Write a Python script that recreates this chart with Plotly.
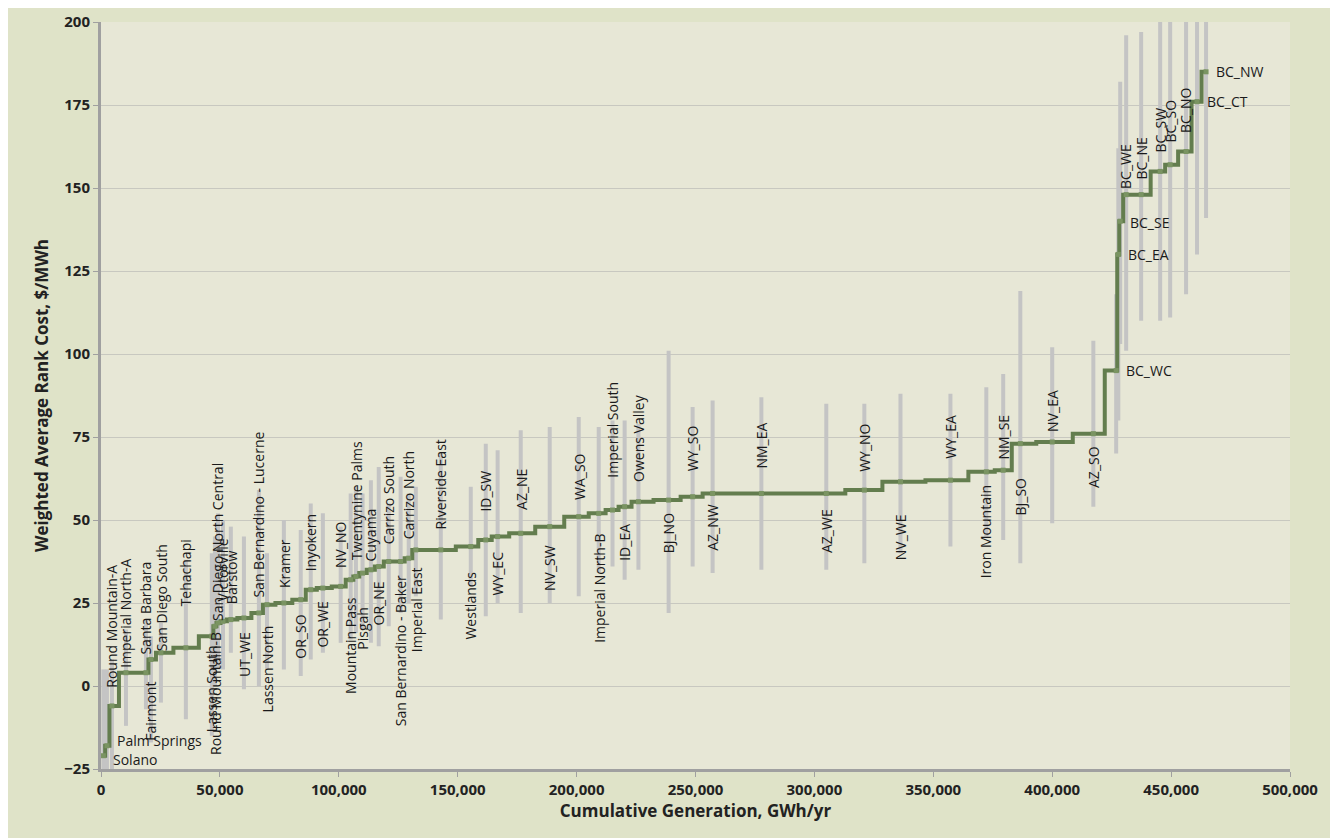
import plotly.graph_objects as go

names = ["Solano","Palm Springs","Round Mountain-A","Imperial North-A","Santa Barbara","Fairmont","San Diego South","Tehachapi",
 "Lassen South","Round Mountain-B","San Diego North Central","Victorville","Barstow","UT_WE","San Bernardino - Lucerne","Lassen North",
 "Kramer","OR_SO","Inyokern","OR_WE","NV_NO","Mountain Pass","Twentynine Palms","Pisgah","Cuyama","OR_NE","Carrizo South",
 "San Bernardino - Baker","Carrizo North","Imperial East","Riverside East","Westlands","ID_SW","WY_EC","AZ_NE","NV_SW","WA_SO",
 "Imperial North-B","Imperial South","ID_EA","Owens Valley","BJ_NO","WY_SO","AZ_NW","NM_EA","AZ_WE","WY_NO","NV_WE","WY_EA",
 "Iron Mountain","NM_SE","BJ_SO","NV_EA","AZ_SO","BC_WC","BC_EA","BC_SE","BC_WE","BC_NE","BC_SW","BC_SO","BC_NO","BC_CT","BC_NW"]
cum_gen = [1000,2500,4600,10500,18900,21000,25200,35700,46600,47900,49200,51300,54600,60100,66400,69800,76900,84000,88200,93300,
 100800,105000,107200,110000,113500,116800,121000,126000,129400,132400,142900,155500,161800,166800,176500,188700,200900,209300,
 215100,220200,226000,238700,248800,257200,277700,305000,321000,336200,357200,372300,379400,386600,400000,417300,426900,427800,
 428600,431100,437400,445400,449600,456300,460900,464700]
cost = [-21,-18,-6,4,4,8,10,11.5,15,18,19,19.5,20,20.5,22,24.5,25,26,29,29.5,30,32,33,34,35,36,37.5,37.5,38.5,41,41,42,44,45,46,
 48,51,52,53,54,55.5,56,57,58,58,58,59,61.5,62,64.5,65,73,73.5,76,95,130,140,148,148,155,157,161,176,185]
low = [-25,-25,-25,-12,-7,-17,-5,-10,-15,0,5,5,10,-1,0,5,5,3,8,10,13,14,16,17,13,12,18,22,25,27,20,30,21,25,22,25,27,34,36,32,
 35,22,36,34,35,35,37,40,42,45,44,37,49,54,70,80,103,101,110,110,111,118,130,141]
high = [5,5,8,17,20,15,19,38,40,45,52,50,48,45,59,40,50,47,55,52,48,58,60,58,62,66,55,63,58,60,70,60,73,71,77,78,81,78,80,80,
 79,101,84,86,87,85,85,88,88,90,94,119,102,104,118,162,182,196,197,201,201,201,201,201]
label_side = ["r","r","a","a","a","b","a","a","b","b","a","a","a","b","a","b","a","b","a","b","a","b","a","b","a","b","a","b",
 "a","b","a","b","a","b","a","b","a","b","a","b","a","b","a","b","a","b","a","b","a","b","a","b","a","b","r","r","r","a","a",
 "a","a","a","r","r"]
label_y = [-22,-16.5,-1,5,9,2,10,23.5,13,17,19,25,24,17,26,19,29,22,34,26,35,27.5,37.5,24.5,37,32,42,34,43.5,36.5,46.5,35,52,41,
 52.5,43,55.5,46.5,62,49.5,61,52.5,64,55.5,65,54,64,52.5,68,61,67.5,63.5,76,73,95,130,139.5,149,152,160,163,166,176,185]

fig = go.Figure()
fig.add_trace(go.Scatter(x=cum_gen, y=cost, mode="markers", marker=dict(size=1, color="rgba(0,0,0,0)"),
    error_y=dict(type="data", symmetric=False, array=[h-c for h, c in zip(high, cost)],
                 arrayminus=[c-l for c, l in zip(cost, low)], width=0, thickness=4, color="#C4C4C4"),
    hoverinfo="skip", showlegend=False))
fig.add_trace(go.Scatter(x=cum_gen, y=cost, mode="lines+markers", line=dict(shape="hvh", color="#637D4E", width=4),
    marker=dict(symbol="square", size=5, color="#7A9462"), showlegend=False))

for n, x, y, s in zip(names, cum_gen, label_y, label_side):
    if s == "r":
        fig.add_annotation(x=x, y=y, text=n, showarrow=False, xanchor="left", yanchor="middle", xshift=8,
                           font=dict(size=14, color="#1a1a1a"))
    else:
        fig.add_annotation(x=x, y=y, text=n, showarrow=False, textangle=-90, xanchor="center",
                           yanchor="bottom" if s == "a" else "top", font=dict(size=14, color="#1a1a1a"))

fig.update_layout(width=1338, height=838, paper_bgcolor="#DFE3C8", plot_bgcolor="#E7E7D6",
    margin=dict(l=93, r=56, t=14, b=77), font=dict(family="Open Sans, Liberation Sans, sans-serif"),
    xaxis=dict(range=[0, 500000], tickvals=list(range(0, 500001, 50000)), tickformat=",", showgrid=False,
               showline=True, linecolor="#A0A0A0", linewidth=3, ticks="outside", tickcolor="#A0A0A0", ticklen=5,
               tickfont=dict(size=15, color="#222", weight="bold"), zeroline=False, automargin=False,
               title=dict(text="<b>Cumulative Generation, GWh/yr</b>", font=dict(size=17, color="#222"), standoff=4)),
    yaxis=dict(range=[-25, 200], tickvals=list(range(-25, 201, 25)), showgrid=True, gridcolor="#C8C8C0", gridwidth=1,
               showline=True, linecolor="#A0A0A0", linewidth=3, ticks="outside", tickcolor="#A0A0A0", ticklen=5,
               tickfont=dict(size=15, color="#222", weight="bold"), zeroline=False, automargin=False,
               title=dict(text="<b>Weighted Average Rank Cost, $/MWh</b>", font=dict(size=17, color="#222"), standoff=12)))
fig.write_html("out.html")
